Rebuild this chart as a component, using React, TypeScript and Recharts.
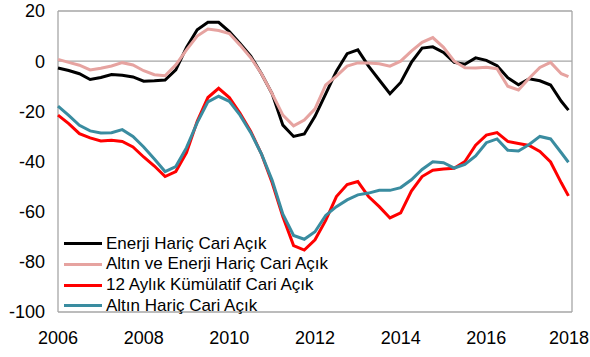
import React from 'react';
import {
  LineChart,
  Line,
  XAxis,
  YAxis,
  CartesianGrid,
} from 'recharts';

// months since Jan 2006, sampled quarterly
const months = [
  0, 3, 6, 9, 12, 15, 18, 21, 24, 27, 30, 33, 36, 39, 42, 45, 48, 51, 54, 57,
  60, 63, 66, 69, 72, 75, 78, 81, 84, 87, 90, 93, 96, 99, 102, 105, 108, 111,
  114, 117, 120, 123, 126, 129, 132, 135, 138, 141, 143,
];

const enerjiHaric = [
  -2.7, -3.7, -5.0, -7.3, -6.5, -5.3, -5.6, -6.3, -8.0, -7.8, -7.5, -3.5, 5.5,
  12.5, 15.5, 15.5, 11.8, 7.0, 2.0, -5.0, -13.0, -25.5, -30.0, -29.0, -22.0,
  -13.0, -4.0, 3.0, 4.5, -2.0, -7.5, -13.0, -8.5, -0.5, 5.2, 5.7, 3.5, -0.5,
  -1.2, 1.3, 0.3, -1.8, -6.6, -9.4, -7.0, -7.8, -9.5, -16.0, -19.5,
];

const altinEnerjiHaric = [
  0.7, -0.5, -1.6, -3.5, -2.8, -1.9, -0.6, -1.5, -3.8, -5.4, -5.8, -1.5, 4.5,
  10.0, 12.8, 12.2, 11.0, 6.4, 1.4, -5.0, -13.0, -21.5, -25.8, -23.5, -19.0,
  -9.5, -6.0, -2.0, -0.7, -0.7, -1.0, -2.0, 0.0, 4.0, 7.5, 9.4, 5.5, 0.0, -2.6,
  -2.7, -2.4, -3.0, -10.0, -11.5, -6.8, -2.5, -0.5, -5.0, -6.2,
];

const kumulatif = [
  -21.5, -24.9, -28.9, -30.6, -31.8, -31.5, -32.0, -34.2, -38.2, -41.8, -46.0,
  -44.0, -36.5, -24.0, -14.5, -10.8, -14.5, -20.8, -28.0, -37.0, -48.5, -62.0,
  -73.5, -75.3, -71.2, -63.5, -54.0, -49.2, -48.0, -54.0, -58.0, -62.5, -60.5,
  -51.8, -46.0, -43.5, -43.0, -42.7, -40.0, -33.5, -29.5, -28.5, -32.0, -32.8,
  -33.6, -36.0, -40.2, -48.5, -53.7,
];

const altinHaric = [
  -17.9, -21.6, -25.6, -27.8, -28.6, -28.5, -27.3, -30.0, -34.2, -39.0, -44.0,
  -42.0, -34.5, -24.5, -16.2, -14.0, -16.0, -21.5, -28.5, -37.0, -47.5, -61.0,
  -69.5, -71.0, -68.0, -61.5, -58.0, -55.3, -53.3, -52.6, -51.5, -51.5, -50.4,
  -47.3, -43.2, -40.1, -40.5, -42.6, -41.2, -37.8, -32.5, -31.0, -35.5, -35.8,
  -33.2, -30.0, -31.0, -36.5, -40.3,
];

const xTicks = [0, 24, 48, 72, 96, 120, 144];
const yTicks = [-100, -80, -60, -40, -20, 0, 20];

const series = [
  { key: 'enerji', name: 'Enerji Hariç Cari Açık', color: '#000000' },
  { key: 'altinEnerji', name: 'Altın ve Enerji Hariç Cari Açık', color: '#E6A3A0' },
  { key: 'kumulatif', name: '12 Aylık Kümülatif Cari Açık', color: '#FF0000' },
  { key: 'altin', name: 'Altın Hariç Cari Açık', color: '#3A8CA0' },
];

const data = months.map((m, i) => ({
  m,
  enerji: enerjiHaric[i],
  altinEnerji: altinEnerjiHaric[i],
  kumulatif: kumulatif[i],
  altin: altinHaric[i],
}));

const font = '"Liberation Sans", Arial, sans-serif';

// last year label would run past the right edge, so keep it inside
const YearTick = (props: any) => {
  const { x, y, payload } = props;
  const label = String(2006 + payload.value / 12);
  const last = payload.value === 144;
  return (
    <text
      x={last ? 589 : x}
      y={y}
      dy="0.71em"
      textAnchor={last ? 'end' : 'middle'}
      fill="#000"
      fontSize={18}
      fontFamily={font}
    >
      {label}
    </text>
  );
};

export default function App() {
  return (
    <div style={{ position: 'relative', width: 590, height: 357, background: '#fff', overflow: 'hidden' }}>
      <style>{'body{margin:0}'}</style>
      <LineChart
        width={590}
        height={357}
        data={data}
        margin={{ top: 11, right: 18, left: 0, bottom: 0 }}
      >
        <CartesianGrid
          stroke="#A6A6A6"
          strokeWidth={1.3}
          horizontalValues={[20, 0, -100]}
          verticalValues={[0, 144]}
        />
        <XAxis
          dataKey="m"
          type="number"
          domain={[0, 144]}
          ticks={xTicks}
          axisLine={false}
          tickLine={false}
          tickSize={0}
          tickMargin={19}
          height={45}
          interval={0}
          tick={<YearTick />}
        />
        <YAxis
          type="number"
          domain={[-100, 20]}
          ticks={yTicks}
          axisLine={false}
          tickLine={false}
          tickSize={0}
          tickMargin={13}
          width={58}
          interval={0}
          tick={{ fill: '#000', fontSize: 18, fontFamily: font }}
        />
        {series.map((s) => (
          <Line
            key={s.key}
            type="linear"
            dataKey={s.key}
            name={s.name}
            stroke={s.color}
            strokeWidth={3}
            dot={false}
            isAnimationActive={false}
          />
        ))}
      </LineChart>
      <div
        style={{
          position: 'absolute',
          left: 64,
          top: 233.5,
          fontFamily: font,
          fontSize: 17,
          color: '#000',
          lineHeight: '20.7px',
        }}
      >
        {series.map((s) => (
          <div key={s.key} style={{ display: 'flex', alignItems: 'center', height: 20.7, whiteSpace: 'nowrap' }}>
            <div style={{ width: 38, height: 3, background: s.color, marginRight: 4 }} />
            <span>{s.name}</span>
          </div>
        ))}
      </div>
    </div>
  );
}
